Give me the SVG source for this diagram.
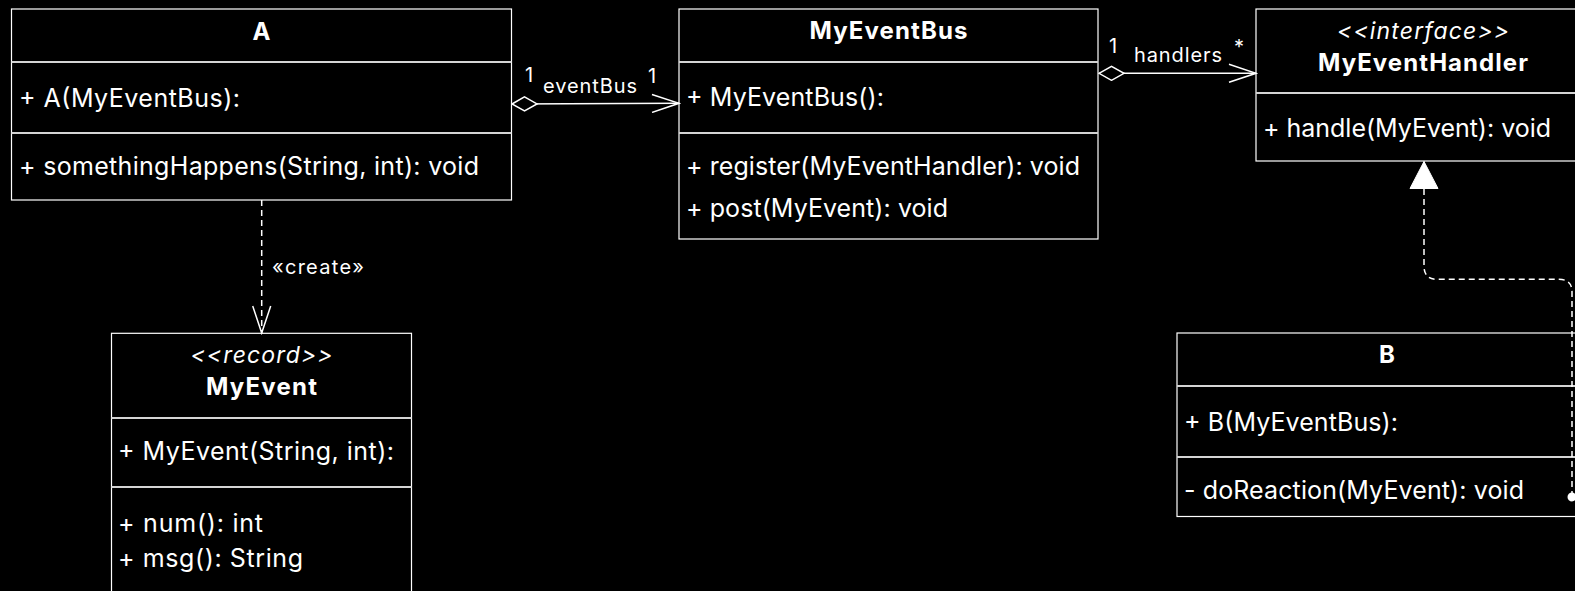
<svg xmlns="http://www.w3.org/2000/svg" width="1575" height="591" viewBox="0 0 1575 591">
<defs>
<style>
.box{fill:#000;stroke:#fff;stroke-width:1.2}
.div{stroke:#d4d4d4;stroke-width:2}
text{fill:#fff;font-family:Inter,"Liberation Sans",sans-serif}
.t{font-size:24px;font-weight:bold;text-anchor:middle}
.st{font-size:23px;font-style:italic;text-anchor:middle}
.m{font-size:25px}
.l{font-size:20px}
.c{fill:none;stroke:#fff;stroke-width:1.5}
.d{stroke-dasharray:6 4}
</style>
<marker id="open" viewBox="0 0 30 20" refX="28" refY="10" markerWidth="30" markerHeight="20" markerUnits="userSpaceOnUse" orient="auto">
<path d="M1,1 L28,10 L1,19" fill="none" stroke="#fff" stroke-width="1.5"/>
</marker>
<marker id="dia" viewBox="0 0 28 16" refX="1" refY="8" markerWidth="28" markerHeight="16" markerUnits="userSpaceOnUse" orient="auto">
<path d="M1,8 L13.5,1 L26,8 L13.5,15 Z" fill="#000" stroke="#fff" stroke-width="1.5"/>
</marker>
<marker id="tri" viewBox="0 0 30 30" refX="28" refY="15" markerWidth="30" markerHeight="30" markerUnits="userSpaceOnUse" orient="auto">
<path d="M1,1 L28,15 L1,29 Z" fill="#fff" stroke="#fff" stroke-width="1"/>
</marker>
</defs>
<rect width="1575" height="591" fill="#000"/>

<g id="A">
<rect class="box" x="11.5" y="9" width="500" height="191"/>
<line class="div" x1="11.5" y1="62" x2="511.5" y2="62"/>
<line class="div" x1="11.5" y1="133" x2="511.5" y2="133"/>
<text class="t" x="261.5" y="39.5">A</text>
<text class="m" x="19" y="107.3" textLength="221">+ A(MyEventBus):</text>
<text class="m" x="19" y="175" textLength="460">+ somethingHappens(String, int): void</text>
</g>

<g id="MyEventBus">
<rect class="box" x="679" y="9" width="419" height="230"/>
<line class="div" x1="679" y1="62" x2="1098" y2="62"/>
<line class="div" x1="679" y1="133" x2="1098" y2="133"/>
<text class="t" x="888.5" y="38.5" textLength="158">MyEventBus</text>
<text class="m" x="686" y="106" textLength="198">+ MyEventBus():</text>
<text class="m" x="686" y="175" textLength="394">+ register(MyEventHandler): void</text>
<text class="m" x="686" y="216.7" textLength="262">+ post(MyEvent): void</text>
</g>

<g id="MyEventHandler">
<rect class="box" x="1256" y="9" width="334" height="152"/>
<line class="div" x1="1256" y1="93" x2="1590" y2="93"/>
<text class="st" x="1423" y="38.5" textLength="172">&lt;&lt;interface&gt;&gt;</text>
<text class="t" x="1423" y="71" textLength="210">MyEventHandler</text>
<text class="m" x="1263" y="136.7" textLength="288">+ handle(MyEvent): void</text>
</g>

<g id="B">
<rect class="box" x="1177" y="333" width="420" height="183.5"/>
<line class="div" x1="1177" y1="386" x2="1597" y2="386"/>
<line class="div" x1="1177" y1="457" x2="1597" y2="457"/>
<text class="t" x="1387" y="363.3">B</text>
<text class="m" x="1184" y="430.7" textLength="214">+ B(MyEventBus):</text>
<text class="m" x="1184" y="499.3" textLength="340">- doReaction(MyEvent): void</text>
</g>

<g id="MyEvent">
<rect class="box" x="111.5" y="333.3" width="300" height="280"/>
<line class="div" x1="111.5" y1="418" x2="411.5" y2="418"/>
<line class="div" x1="111.5" y1="487" x2="411.5" y2="487"/>
<text class="st" x="261.5" y="363" textLength="142">&lt;&lt;record&gt;&gt;</text>
<text class="t" x="261.5" y="395" textLength="111">MyEvent</text>
<text class="m" x="118" y="460" textLength="276">+ MyEvent(String, int):</text>
<text class="m" x="118" y="531.7" textLength="145">+ num(): int</text>
<text class="m" x="118" y="566.7" textLength="185">+ msg(): String</text>
</g>

<g id="connectors">
<path class="c" d="M512,104 L679,103.3" marker-start="url(#dia)" marker-end="url(#open)"/>
<text class="l" x="529" y="81.7" text-anchor="middle">1</text>
<text class="l" x="590" y="92.7" text-anchor="middle" textLength="94">eventBus</text>
<text class="l" x="652" y="82.7" text-anchor="middle">1</text>
<path class="c" d="M1099,73.3 L1256,73.3" marker-start="url(#dia)" marker-end="url(#open)"/>
<text class="l" x="1113" y="52.7" text-anchor="middle">1</text>
<text class="l" x="1178" y="62.3" text-anchor="middle" textLength="88">handlers</text>
<text class="l" x="1239" y="54" text-anchor="middle">*</text>
<path class="c d" d="M261.7,200 L261.7,333" marker-end="url(#open)"/>
<text class="l" x="272" y="274" textLength="92">«create»</text>
<path class="c d" d="M1572,497 L1572,292 Q1572,279.3 1559,279.3 L1437,279.3 Q1424,279.3 1424,266 L1424,161.5" marker-end="url(#tri)"/>
<circle cx="1572" cy="497" r="4.5" fill="#fff"/>
</g>
</svg>
